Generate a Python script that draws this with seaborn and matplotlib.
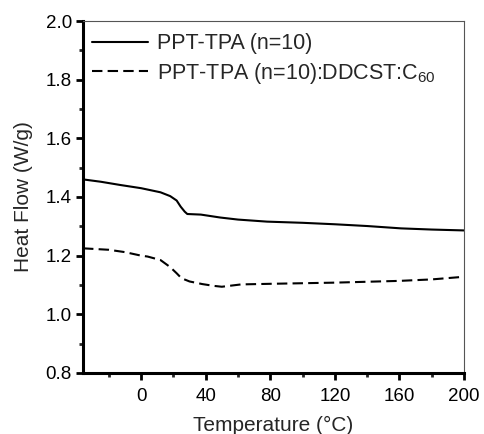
import matplotlib
matplotlib.use("Agg")
import matplotlib.pyplot as plt
import seaborn as sns
import pandas as pd
from matplotlib.ticker import MultipleLocator

temp_a = [-36, -25, -13, 0, 12, 18, 22, 24.5, 27, 28.6, 37, 49, 60, 78, 100, 120, 140, 161, 180, 200]
flow_a = [1.460, 1.452, 1.441, 1.430, 1.416, 1.403, 1.388, 1.367, 1.350, 1.342, 1.340, 1.330, 1.323, 1.316, 1.312, 1.307, 1.301, 1.293, 1.289, 1.286]

temp_b = [-36, -20, -10, 0, 4, 12, 18, 22, 25, 30, 38, 45, 50, 56, 62, 80, 100, 120, 140, 160, 180, 200]
flow_b = [1.225, 1.220, 1.212, 1.200, 1.197, 1.185, 1.161, 1.140, 1.123, 1.112, 1.103, 1.097, 1.094, 1.098, 1.102, 1.104, 1.106, 1.108, 1.111, 1.114, 1.119, 1.128]

label_a = "PPT-TPA (n=10)"
label_b = "PPT-TPA (n=10):DDCST:C$_{60}$"

df = pd.concat([
    pd.DataFrame({"T": temp_a, "H": flow_a, "s": label_a}),
    pd.DataFrame({"T": temp_b, "H": flow_b, "s": label_b}),
])

sns.set_style("white")
plt.rcParams['font.family'] = ['Liberation Sans', 'DejaVu Sans']
plt.rcParams['mathtext.fontset'] = 'custom'
plt.rcParams['mathtext.rm'] = 'Liberation Sans'

fig = plt.figure(figsize=(4.84, 4.34), dpi=100)
ax = fig.add_axes([0.1715, 0.1406, 0.7872, 0.811])

sns.lineplot(data=df, x="T", y="H", hue="s", style="s",
             palette=["black", "black"], dashes=[(None, None), (5, 2.5)],
             linewidth=1.5, ax=ax, sort=False, estimator=None)

ax.set_xlim(-36, 200)
ax.set_ylim(0.8, 2.0)
ax.xaxis.set_minor_locator(MultipleLocator(20))
ax.yaxis.set_major_locator(MultipleLocator(0.2))
ax.yaxis.set_minor_locator(MultipleLocator(0.1))
ax.set_xticks([0, 40, 80, 120, 160, 200])
ax.set_yticks([0.8, 1.0, 1.2, 1.4, 1.6, 1.8, 2.0])
ax.set_yticklabels(["0.8", "1.0", "1.2", "1.4", "1.6", "1.8", "2.0"])

for side in ["left", "bottom"]:
    ax.spines[side].set_linewidth(2.2)
    ax.spines[side].set_color("black")
for side in ["top", "right"]:
    ax.spines[side].set_linewidth(0.8)
    ax.spines[side].set_color("#555555")

ax.tick_params(which="major", direction="out", length=5, width=2, labelsize=13.5, colors="black", pad=3,
               bottom=True, left=True, top=False, right=False)
ax.tick_params(axis="x", which="major", pad=6)
ax.tick_params(which="minor", direction="out", length=3, width=2, bottom=True, left=True, top=False, right=False)

ax.set_xlabel("Temperature (°C)", fontsize=15, labelpad=8)
ax.set_ylabel("Heat Flow (W/g)", fontsize=15, labelpad=9)

leg = ax.legend(loc="upper left", bbox_to_anchor=(0.0, 0.989), frameon=False, fontsize=15.5,
                handlelength=2.6, handletextpad=0.42, labelspacing=0.3, borderaxespad=0.0)
for h in leg.get_lines():
    h.set_linewidth(1.5)

fig.savefig("out.png", dpi=100)
